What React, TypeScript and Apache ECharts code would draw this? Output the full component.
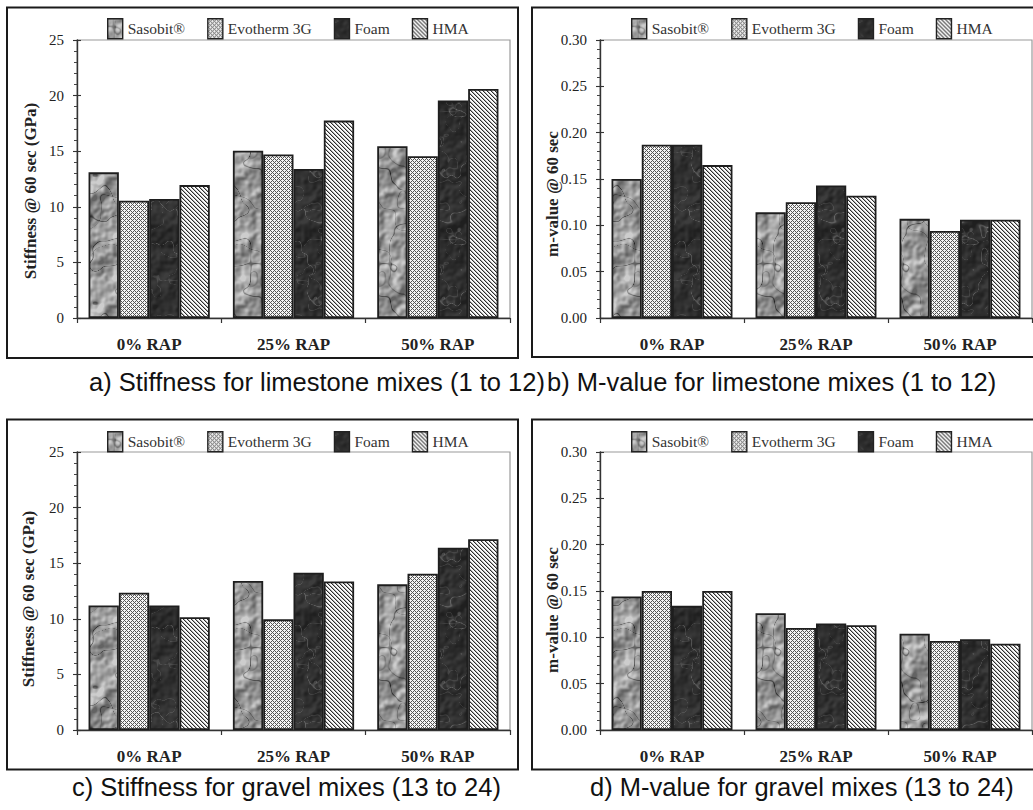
import React, { useEffect, useRef } from 'react';
import * as echarts from 'echarts';

// ---- data -------------------------------------------------------------
const categories = ['0% RAP', '25% RAP', '50% RAP'];
const mixes = ['Sasobit®', 'Evotherm 3G', 'Foam', 'HMA'];

// Stiffness @ 60 sec (GPa), limestone mixes (1 to 12)
const stiffLimeSasobit = [13.1, 15.05, 15.45];
const stiffLimeEvotherm = [10.55, 14.7, 14.55];
const stiffLimeFoam = [10.7, 13.4, 19.55];
const stiffLimeHMA = [11.95, 17.75, 20.6];

// m-value @ 60 sec, limestone mixes (1 to 12)
const mLimeSasobit = [0.15, 0.114, 0.107];
const mLimeEvotherm = [0.187, 0.125, 0.094];
const mLimeFoam = [0.187, 0.143, 0.106];
const mLimeHMA = [0.165, 0.132, 0.106];

// Stiffness @ 60 sec (GPa), gravel mixes (13 to 24)
const stiffGravSasobit = [11.2, 13.4, 13.1];
const stiffGravEvotherm = [12.35, 9.95, 14.05];
const stiffGravFoam = [11.2, 14.15, 16.4];
const stiffGravHMA = [10.15, 13.35, 17.15];

// m-value @ 60 sec, gravel mixes (13 to 24)
const mGravSasobit = [0.144, 0.126, 0.104];
const mGravEvotherm = [0.15, 0.11, 0.096];
const mGravFoam = [0.134, 0.115, 0.098];
const mGravHMA = [0.15, 0.113, 0.093];

// axis ranges and tick label formats
const stiffnessAxis = { min: 0, max: 25, interval: 5, decimals: 0 };
const mValueAxis = { min: 0, max: 0.3, interval: 0.05, decimals: 2 };

const captions = [
  'a) Stiffness for limestone mixes (1 to 12)',
  'b) M-value for limestone mixes (1 to 12)',
  'c) Stiffness for gravel mixes (13 to 24)',
  'd) M-value for gravel mixes (13 to 24)',
];
const yTitles = [
  'Stiffness @ 60 sec (GPa)',
  'm-value @ 60 sec',
  'Stiffness @ 60 sec (GPa)',
  'm-value @ 60 sec',
];

const panelSeries = [
  [stiffLimeSasobit, stiffLimeEvotherm, stiffLimeFoam, stiffLimeHMA],
  [mLimeSasobit, mLimeEvotherm, mLimeFoam, mLimeHMA],
  [stiffGravSasobit, stiffGravEvotherm, stiffGravFoam, stiffGravHMA],
  [mGravSasobit, mGravEvotherm, mGravFoam, mGravHMA],
];
const panelAxes = [stiffnessAxis, mValueAxis, stiffnessAxis, mValueAxis];

// ---- layout -------------------------------------------------------------
const layouts = [
  { left: 77, top: 40, width: 433, height: 278, box: [7, 7.5, 511, 350.5], capX: 89, capY: 382, titleX: 30, titleY: 191, legendLeft: 102, legendTop: 13 },
  { left: 600, top: 40, width: 432, height: 278, box: [532, 7.5, 530, 349.5], capX: 547, capY: 382, titleX: 552, titleY: 194, legendLeft: 626, legendTop: 13 },
  { left: 77, top: 452, width: 433, height: 278, box: [7, 419.5, 511, 350], capX: 72, capY: 787, titleX: 28, titleY: 599, legendLeft: 102, legendTop: 426 },
  { left: 600, top: 452, width: 432, height: 278, box: [532, 419.5, 530, 350], capX: 590, capY: 787, titleX: 552, titleY: 610, legendLeft: 626, legendTop: 426 },
];

const SERIF = '"Liberation Serif", "Times New Roman", serif';
const SANS = '"Liberation Sans", Arial, sans-serif';
const INK = '#222';

// ---- fill textures -------------------------------------------------------
function seeded(seed: number) {
  let s = seed | 0;
  return () => {
    s = (s + 0x6d2b79f5) | 0;
    let t = Math.imul(s ^ (s >>> 15), 1 | s);
    t = (t + Math.imul(t ^ (t >>> 7), 61 | t)) ^ t;
    return ((t ^ (t >>> 14)) >>> 0) / 4294967296;
  };
}

// tileable value noise over a square of `size` pixels with `cells` lattice cells
function valueNoise(size: number, cells: number, rand: () => number) {
  const v = new Float32Array(cells * cells);
  for (let i = 0; i < v.length; i++) v[i] = rand() * 2 - 1;
  return (x: number, y: number) => {
    let fx = (x / size) * cells;
    let fy = (y / size) * cells;
    fx = ((fx % cells) + cells) % cells;
    fy = ((fy % cells) + cells) % cells;
    const x0 = Math.floor(fx);
    const y0 = Math.floor(fy);
    const tx = fx - x0;
    const ty = fy - y0;
    const sx = tx * tx * (3 - 2 * tx);
    const sy = ty * ty * (3 - 2 * ty);
    const x1 = (x0 + 1) % cells;
    const y1 = (y0 + 1) % cells;
    const a = v[y0 * cells + x0];
    const b = v[y0 * cells + x1];
    const c = v[y1 * cells + x0];
    const d = v[y1 * cells + x1];
    return a + (b - a) * sx + (c - a) * sy + (a - b - c + d) * sx * sy;
  };
}

function shadeTile(size: number, shade: (x: number, y: number) => number) {
  const c = document.createElement('canvas');
  c.width = size;
  c.height = size;
  const g = c.getContext('2d')!;
  const img = g.createImageData(size, size);
  for (let y = 0; y < size; y++) {
    for (let x = 0; x < size; x++) {
      const v = Math.max(0, Math.min(255, Math.round(shade(x, y))));
      const i = (y * size + x) * 4;
      img.data[i] = v;
      img.data[i + 1] = v;
      img.data[i + 2] = v;
      img.data[i + 3] = 255;
    }
  }
  g.putImageData(img, 0, 0);
  return c;
}

// relief lighting of a height field, normalised to unit spread
function relief(size: number, h: (x: number, y: number) => number) {
  const d = new Float32Array(size * size);
  let sum = 0;
  let sq = 0;
  for (let y = 0; y < size; y++) {
    for (let x = 0; x < size; x++) {
      const v = h(x + 1, y + 1) - h(x - 1, y - 1);
      d[y * size + x] = v;
      sum += v;
      sq += v * v;
    }
  }
  const n = size * size;
  const mean = sum / n;
  const sd = Math.sqrt(Math.max(1e-9, sq / n - mean * mean));
  return (x: number, y: number) => Math.max(-2.2, Math.min(2.2, (d[y * size + x] - mean) / sd));
}

// crumpled paper: faceted relief with dark creases
function crumpledTile() {
  const S = 128;
  const r = seeded(11);
  const o = [valueNoise(S, 4, r), valueNoise(S, 8, r), valueNoise(S, 16, r), valueNoise(S, 32, r)];
  const h = (x: number, y: number) => o[0](x, y) + 0.55 * o[1](x, y) + 0.35 * o[2](x, y) + 0.18 * o[3](x, y);
  const lit = relief(S, h);
  const c1 = valueNoise(S, 5, r);
  const c2 = valueNoise(S, 11, r);
  const c3 = valueNoise(S, 7, r);
  return shadeTile(S, (x, y) => {
    const k1 = c1(x, y) + 0.45 * c2(x, y);
    const k2 = c3(x, y) + 0.35 * c2(x + 40, y + 17);
    const crease = Math.exp(-((k1 / 0.035) ** 2)) + 0.6 * Math.exp(-((k2 / 0.03) ** 2));
    return 152 + 24 * lit(x, y) - 62 * crease;
  });
}

// dark marble with pale veins
function marbleTile() {
  const S = 128;
  const r = seeded(29);
  const o = [valueNoise(S, 4, r), valueNoise(S, 8, r), valueNoise(S, 16, r), valueNoise(S, 32, r)];
  const h = (x: number, y: number) => o[0](x, y) + 0.5 * o[1](x, y) + 0.3 * o[2](x, y) + 0.2 * o[3](x, y);
  const lit = relief(S, h);
  const m1 = valueNoise(S, 4, r);
  const m2 = valueNoise(S, 9, r);
  const m3 = valueNoise(S, 19, r);
  return shadeTile(S, (x, y) => {
    const m = m1(x, y) + 0.5 * m2(x, y) + 0.25 * m3(x, y);
    const m2b = m2(x + 30, y + 50) + 0.4 * m3(x + 11, y);
    const vein = Math.exp(-((m / 0.03) ** 2)) + 0.6 * Math.exp(-((m2b / 0.03) ** 2));
    return 46 + 7 * lit(x, y) + 40 * vein;
  });
}

function checkTile() {
  return shadeTile(4, (x, y) => ((x - y + 8) % 4 === 0 || (x + y) % 4 === 0 ? 85 : 245));
}

function stripeTile() {
  return shadeTile(4, (x, y) => {
    const d = (((x - y) % 4) + 4) % 4;
    return d === 0 ? 45 : d === 1 ? 175 : 252;
  });
}

function pattern(c: HTMLCanvasElement) {
  return { image: c.toDataURL(), repeat: 'repeat', imageWidth: c.width, imageHeight: c.height };
}

// ---- option ---------------------------------------------------------------
function buildOption() {
  const fills = [pattern(crumpledTile()), pattern(checkTile()), pattern(marbleTile()), pattern(stripeTile())];

  const grid: any[] = [];
  const xAxis: any[] = [];
  const yAxis: any[] = [];
  const series: any[] = [];
  const legend: any[] = [];
  const graphic: any[] = [];

  layouts.forEach((L, p) => {
    const ax = panelAxes[p];
    grid.push({
      left: L.left,
      top: L.top,
      width: L.width,
      height: L.height,
      show: true,
      borderColor: '#9a9a9a',
      borderWidth: 1.2,
      backgroundColor: 'transparent',
    });
    xAxis.push({
      type: 'category',
      gridIndex: p,
      data: categories,
      axisLine: { lineStyle: { color: '#333', width: 1.4 } },
      axisTick: { show: true, length: 5, lineStyle: { color: '#333', width: 1.2 } },
      axisLabel: { margin: 18, color: INK, fontFamily: SERIF, fontSize: 17, fontWeight: 'bold' },
      splitLine: { show: false },
    });
    // labelled axis with outward major and minor ticks
    yAxis.push({
      type: 'value',
      gridIndex: p,
      position: 'left',
      min: ax.min,
      max: ax.max,
      interval: ax.interval,
      axisLine: { show: true, lineStyle: { color: '#333', width: 1.4 } },
      axisTick: { show: true, length: 4, lineStyle: { color: '#333', width: 1.1 } },
      minorTick: { show: true, splitNumber: 5, length: 3, lineStyle: { color: '#444', width: 1 } },
      axisLabel: {
        margin: 13,
        color: INK,
        fontFamily: SERIF,
        fontSize: 15,
        formatter: (v: number) => v.toFixed(ax.decimals),
      },
      splitLine: { show: false },
    });
    // companion axis: the inward half of each major tick
    yAxis.push({
      type: 'value',
      gridIndex: p,
      position: 'left',
      min: ax.min,
      max: ax.max,
      interval: ax.interval,
      axisLine: { show: false },
      axisTick: { show: true, inside: true, length: 4, lineStyle: { color: '#333', width: 1.1 } },
      axisLabel: { show: false },
      splitLine: { show: false },
    });

    panelSeries[p].forEach((values, k) => {
      series.push({
        type: 'bar',
        name: mixes[k],
        xAxisIndex: p,
        yAxisIndex: p * 2,
        data: values,
        barGap: '0%',
        barCategoryGap: '16%',
        silent: true,
        itemStyle: { color: fills[k], borderColor: '#1e1e1e', borderWidth: 1.8 },
        emphasis: { disabled: true },
      });
    });

    legend.push({
      data: mixes,
      left: L.legendLeft,
      top: L.legendTop,
      orient: 'horizontal',
      itemWidth: 15,
      itemHeight: 20,
      itemGap: 22,
      selectedMode: false,
      icon: 'rect',
      itemStyle: { borderColor: '#222', borderWidth: 1.4 },
      textStyle: { color: '#333', fontFamily: SERIF, fontSize: 15.5 },
    });

    graphic.push({
      type: 'rect',
      silent: true,
      shape: { x: L.box[0], y: L.box[1], width: L.box[2], height: L.box[3] },
      style: { fill: 'none', stroke: '#1a1a1a', lineWidth: 2 },
    });
    graphic.push({
      type: 'text',
      silent: true,
      x: L.titleX,
      y: L.titleY,
      rotation: Math.PI / 2,
      style: {
        text: yTitles[p],
        font: `bold 17px ${SERIF}`,
        fill: INK,
        align: 'center',
        verticalAlign: 'middle',
      },
    });
    graphic.push({
      type: 'text',
      silent: true,
      x: L.capX,
      y: L.capY,
      style: {
        text: captions[p],
        font: `25.5px ${SANS}`,
        fill: '#111',
        align: 'left',
        verticalAlign: 'middle',
      },
    });
  });

  return {
    animation: false,
    backgroundColor: '#ffffff',
    grid,
    xAxis,
    yAxis,
    series,
    legend,
    graphic: { elements: graphic },
  };
}

export default function App() {
  const ref = useRef<HTMLDivElement>(null);
  useEffect(() => {
    const chart = echarts.init(ref.current!, null, { renderer: 'svg' });
    chart.setOption(buildOption());
    return () => chart.dispose();
  }, []);
  return (
    <div
      ref={ref}
      style={{ position: 'absolute', left: 0, top: 0, width: 1033, height: 810, background: '#fff' }}
    />
  );
}
